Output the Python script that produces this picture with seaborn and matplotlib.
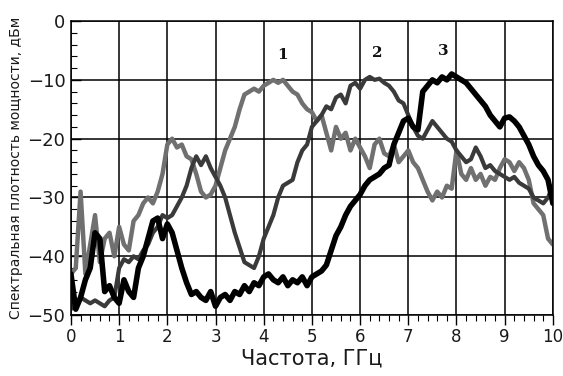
import numpy as np
import pandas as pd
import matplotlib
matplotlib.use("Agg")
import matplotlib.pyplot as plt
import seaborn as sns
from matplotlib.ticker import MultipleLocator

# частота, ГГц (шаг 0.1)
freq = [round(0.1 * i, 1) for i in range(101)]

# кривая 1 (серая)
curve1 = [-43, -42, -29, -43, -38, -33, -41, -37, -36, -40,
          -35, -38, -39, -34, -33, -31, -30, -31, -29, -26,
          -21, -20, -21.5, -21, -23, -23.5, -26, -29, -30, -29.5,
          -28, -25, -22, -20, -18, -15, -12.5, -12, -11.5, -12,
          -11, -10.5, -10, -10.5, -10, -11, -12, -12.5, -14, -15,
          -15.5, -17, -16, -19, -22, -18, -20, -19, -22, -20,
          -21.5, -23, -25, -21, -20, -22.5, -23, -21, -24, -23,
          -22, -24, -25, -27, -29, -30.5, -29, -30, -28, -28.5,
          -22, -26, -27, -25, -27, -26, -28, -26.5, -27, -25,
          -23.5, -24, -25.5, -24, -25, -27, -31, -32, -33, -37,
          -38]

# кривая 2 (тёмно-серая)
curve2 = [-49, -48, -47, -47.5, -48, -47.5, -48, -48.5, -47.5, -47,
          -42, -40.5, -41, -40, -40.5, -39, -38, -36, -35, -33,
          -33.5, -33, -31.5, -30, -28, -25, -23, -24.5, -23, -25,
          -26.5, -28, -30, -33, -36, -38.5, -41, -41.5, -42, -40,
          -37, -35, -33, -30, -28, -27.5, -27, -24, -22, -21,
          -18, -17, -16, -14.5, -15, -13, -12.5, -14, -11, -10.5,
          -11.5, -10, -9.5, -10, -9.8, -10.5, -11, -12, -13.5, -14,
          -16, -18, -19.5, -20, -18.5, -17, -18, -19, -20, -20.5,
          -22, -23, -24, -23.5, -21.5, -23, -25, -24.5, -25.5, -26,
          -26.5, -27, -26.5, -27.5, -28, -28.5, -30, -30.5, -31, -30,
          -28]

# кривая 3 (чёрная)
curve3 = [-43, -49, -47, -44, -42, -36, -37, -46, -45, -47,
          -48, -44, -46, -47, -42, -40, -37, -34, -33.5, -37,
          -34.5, -36, -39, -42, -44.5, -46.5, -46, -47, -47.5, -46,
          -48.5, -47, -46.5, -47.5, -46, -46.5, -45, -46, -44.5, -45,
          -43.5, -43, -44, -44.5, -43.5, -45, -44, -44.5, -43.5, -45,
          -43.5, -43, -42.5, -41.5, -39, -36.5, -35, -33, -31.5, -30.5,
          -29.5, -28, -27, -26.5, -26, -25, -24.5, -21, -19, -17,
          -16.5, -18, -18.5, -12, -11, -10, -10.5, -9.5, -10, -9,
          -9.5, -10, -10.5, -11.5, -12.5, -13.5, -14.5, -16, -17, -18,
          -16.5, -16.3, -17, -18, -19.5, -21, -23, -24.5, -25.5, -27,
          -31]

labels = ["1", "2", "3"]
label_pos = [(4.38, -7), (6.35, -6.6), (7.72, -6.3)]

df = pd.DataFrame({"freq": freq * 3,
                   "psd": curve1 + curve2 + curve3,
                   "curve": ["1"] * 101 + ["2"] * 101 + ["3"] * 101})

sns.set_style("white")
plt.rcParams["font.family"] = ["DejaVu Sans"]

fig = plt.figure(figsize=(5.63, 3.76), dpi=100)
ax = fig.add_axes([0.126, 0.162, 0.856, 0.782])

styles = {"1": ("#707070", 3.2), "2": ("#3a3a3a", 3.0), "3": ("#000000", 4.0)}
for name in labels:
    color, lw = styles[name]
    sns.lineplot(data=df[df["curve"] == name], x="freq", y="psd",
                 color=color, linewidth=lw, ax=ax)

for name, (tx, ty) in zip(labels, label_pos):
    ax.text(tx, ty, name, ha="center", va="bottom", fontsize=11,
            fontweight="bold", family="serif", color="#111111")

ax.set_xlim(0, 10)
ax.set_ylim(-50, 0)
ax.xaxis.set_major_locator(MultipleLocator(1))
ax.xaxis.set_minor_locator(MultipleLocator(0.2))
ax.yaxis.set_major_locator(MultipleLocator(10))
ax.yaxis.set_minor_locator(MultipleLocator(2))
ax.grid(True, which="major", color="black", linewidth=1.1)
ax.tick_params(axis="x", which="both", bottom=True, color="black", labelcolor="#1a1a1a")
ax.tick_params(axis="y", which="both", left=True, color="black", labelcolor="#1a1a1a")
ax.tick_params(axis="x", which="major", direction="out", length=7, width=1, labelsize=12, pad=2)
ax.tick_params(axis="x", which="minor", direction="out", length=4, width=0.8)
ax.tick_params(axis="y", which="major", direction="in", length=7, width=1, labelsize=13, pad=4)
ax.tick_params(axis="y", which="minor", direction="in", length=4, width=0.8)
for s in ax.spines.values():
    s.set_color("black")
    s.set_linewidth(1.1)

ax.set_xlabel("Частота, ГГц", fontsize=15, labelpad=2, color="#1a1a1a")
ax.set_ylabel("Спектральная плотность мощности, дБм", fontsize=10, labelpad=3,
              color="#1a1a1a")

fig.savefig("out.png", dpi=100)
